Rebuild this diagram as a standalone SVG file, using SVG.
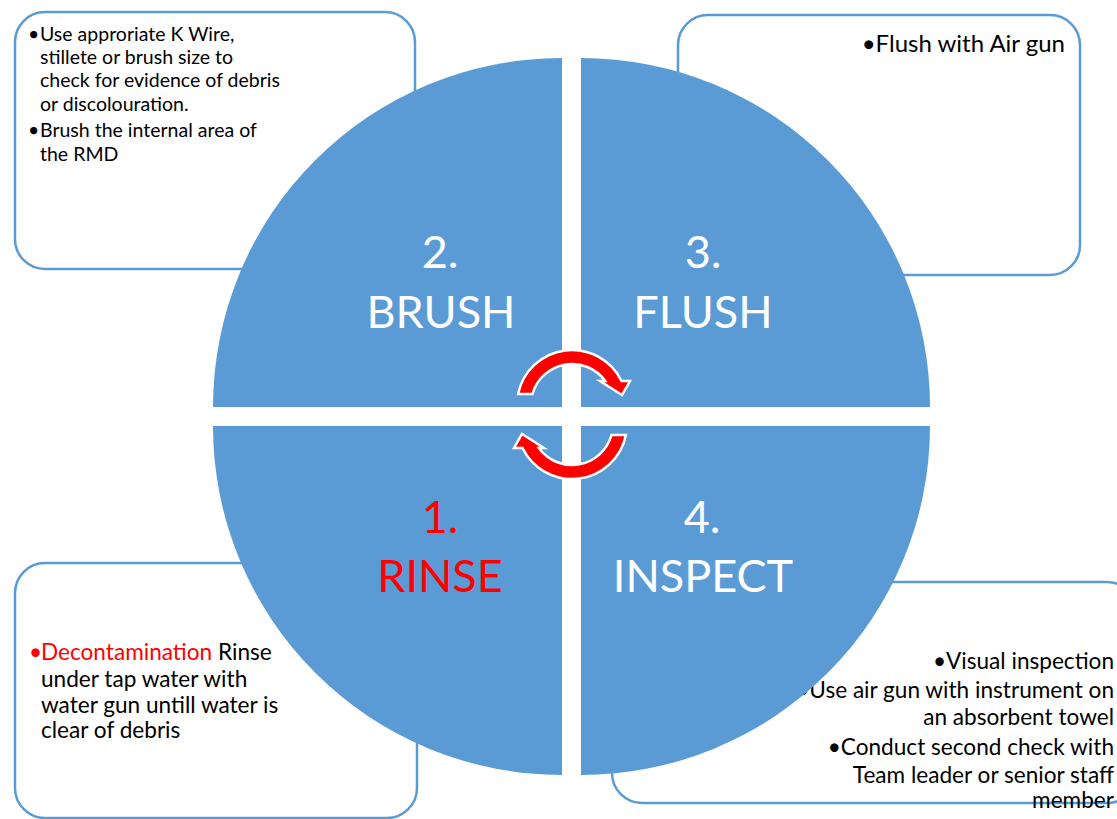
<svg xmlns="http://www.w3.org/2000/svg" width="1117" height="819" viewBox="0 0 1117 819">
  <style>
    .box { fill: #ffffff; stroke: #5b9bd5; stroke-width: 2.5; }
    .quad { fill: #5b9bd5; }
    .txt { font-family: Lato, "Open Sans", "Liberation Sans", sans-serif; fill: #000000; }
    .b1 { font-size: 19.5px; }
    .b2 { font-size: 24px; }
    .b3 { font-size: 22.6px; }
    .lbl { font-family: Lato, "Open Sans", "Liberation Sans", sans-serif; font-size: 45px; fill: #ffffff; text-anchor: middle; }
    .red { fill: #ff0000; }
    .arrow { fill: #ff0000; stroke: #ffffff; stroke-width: 2.5; stroke-linejoin: miter; }
  </style>

  <!-- note boxes (drawn first, the circle sits over them) -->
  <g id="note-brush">
    <rect class="box" x="15" y="12" width="400" height="257" rx="30" ry="30"/>
    <text class="txt b1" x="28" y="41">•</text>
    <text class="txt b1" x="40" y="41">Use approriate K Wire,</text>
    <text class="txt b1" x="40" y="64">stillete or brush size to</text>
    <text class="txt b1" x="40" y="87">check for evidence of debris</text>
    <text class="txt b1" x="40" y="111">or discolouration.</text>
    <text class="txt b1" x="28" y="137">•</text>
    <text class="txt b1" x="40" y="137">Brush the internal area of</text>
    <text class="txt b1" x="40" y="161">the RMD</text>
  </g>

  <g id="note-flush">
    <rect class="box" x="678" y="15" width="402" height="260" rx="30" ry="30"/>
    <text class="txt b2" x="1065" y="52" text-anchor="end">•Flush with Air gun</text>
  </g>

  <g id="note-rinse">
    <rect class="box" x="15" y="563" width="402" height="255" rx="30" ry="30"/>
    <text class="txt b3" x="29" y="660"><tspan class="red">•</tspan></text>
    <text class="txt b3" x="41" y="660"><tspan class="red">Decontamination</tspan> Rinse</text>
    <text class="txt b3" x="41" y="687">under tap water with</text>
    <text class="txt b3" x="41" y="713">water gun untill water is</text>
    <text class="txt b3" x="41" y="738">clear of debris</text>
  </g>

  <g id="note-inspect">
    <rect class="box" x="612" y="582" width="525" height="221" rx="30" ry="30"/>
    <g class="txt b3" text-anchor="end">
      <text x="1114" y="669">•Visual inspection</text>
      <text x="1114" y="698">•Use air gun with instrument on</text>
      <text x="1114" y="725">an absorbent towel</text>
      <text x="1114" y="755">•Conduct second check with</text>
      <text x="1114" y="783">Team leader or senior staff</text>
      <text x="1114" y="808">member</text>
    </g>
  </g>

  <!-- the four quarter segments of the cycle -->
  <g id="step-brush">
    <path class="quad" d="M562 407 L213 407 A349 349 0 0 1 562 58 Z"/>
    <text class="lbl" x="440" y="268">2.</text>
    <text class="lbl" x="441" y="328">BRUSH</text>
  </g>
  <g id="step-flush">
    <path class="quad" d="M581 407 L581 58 A349 349 0 0 1 930 407 Z"/>
    <text class="lbl" x="703" y="268">3.</text>
    <text class="lbl" x="703" y="328">FLUSH</text>
  </g>
  <g id="step-rinse">
    <path class="quad" d="M562 426 L562 775 A349 349 0 0 1 213 426 Z"/>
    <text class="lbl red" x="440" y="533">1.</text>
    <text class="lbl red" x="440" y="592">RINSE</text>
  </g>
  <g id="step-inspect">
    <path class="quad" d="M581 426 L930 426 A349 349 0 0 1 581 775 Z"/>
    <text class="lbl" x="702" y="533">4.</text>
    <text class="lbl" x="703" y="592">INSPECT</text>
  </g>

  <!-- circular arrows in the centre -->
  <g id="connectors">
    <defs>
      <path id="cycle-arrow" d="M518.1 394 A55 55 0 0 1 621.5 381 L630 381 L622 395 L600 381 L605.2 381 A41 41 0 0 0 532.5 394 Z"/>
    </defs>
    <use href="#cycle-arrow" class="arrow"/>
    <use href="#cycle-arrow" class="arrow" transform="rotate(180 572 414.5)"/>
  </g>
</svg>
